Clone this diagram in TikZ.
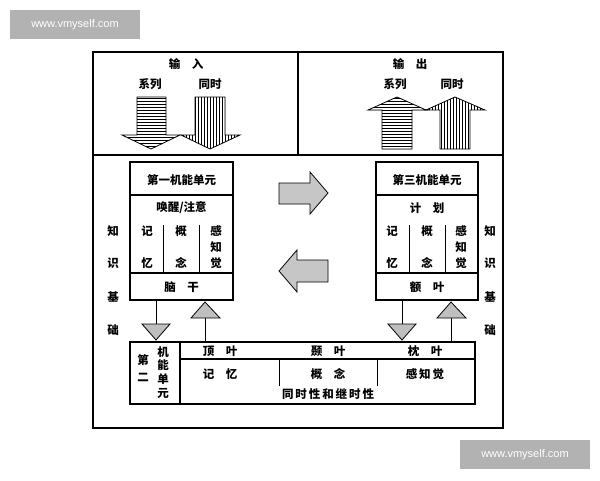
\documentclass[tikz,border=0pt]{standalone}
\usepackage{fontspec}
\setmainfont{Liberation Sans}
\newfontfamily\cjk{Noto Sans CJK SC}
\usetikzlibrary{patterns}
\begin{document}
\begin{tikzpicture}[x=1pt,y=-1pt,line width=1pt,
  t/.style={font=\cjk\bfseries\fontsize{11.5}{13}\selectfont,inner sep=0pt},
  box/.style={draw,line width=1.1pt},
  tri/.style={draw,fill=gray!50,line width=0.8pt},
  big/.style={draw,fill=gray!45,line width=0.8pt},
  hs/.style={draw,pattern=horizontal lines,line width=0.8pt},
  vs/.style={draw,pattern=vertical lines,line width=0.8pt},
  wm/.style={fill=gray!60,text=white,font=\fontsize{11}{13}\selectfont,minimum width=130pt,minimum height=29pt,inner sep=0pt}]
\useasboundingbox (0,0) rectangle (600,480);
\fill[white] (0,0) rectangle (600,480);
\node[wm] (wm1) at (75,24.5) {www.vmyself.com};
\node[wm] (wm2) at (525,454.5) {www.vmyself.com};
% outer frame
\draw[box] (93,52) rectangle (503,428);
\draw[box] (93,155) -- (503,155);
\draw[box] (298,52) -- (298,155);
% input
\node[t] (in) at (186,64) {输\quad 入};
\node[t] (s1) at (150,84) {系列};
\node[t] (c1) at (210,84) {同时};
\draw[hs] (137,97) -- (166,97) -- (166,135) -- (180,135) -- (151,149) -- (122,135) -- (137,135) -- cycle;
\draw[vs] (195,97) -- (225,97) -- (225,135) -- (240,135) -- (210,149) -- (181,135) -- (195,135) -- cycle;
% output
\node[t] (out) at (410,64) {输\quad 出};
\node[t] (s2) at (395,84) {系列};
\node[t] (c2) at (452,84) {同时};
\draw[hs] (382,149) -- (412,149) -- (412,110) -- (426,110) -- (397,97) -- (368,110) -- (382,110) -- cycle;
\draw[vs] (440,149) -- (470,149) -- (470,110) -- (485,110) -- (455,97) -- (426,110) -- (440,110) -- cycle;
% first unit
\draw[box] (130,162) rectangle (233,300);
\draw[box] (130,195) -- (233,195) (130,273) -- (233,273);
\draw (163,225) -- (163,273) (199,225) -- (199,273);
\node[t] (u1) at (181.5,180) {第一机能单元};
\node[t] (a1) at (181.5,208) {唤醒/注意};
\node[t] at (147,231) {记}; \node[t] at (147,263) {忆};
\node[t] at (181,231) {概}; \node[t] at (181,263) {念};
\node[t] at (216,231) {感}; \node[t] at (216,247) {知}; \node[t] at (216,263) {觉};
\node[t] (nao) at (181.5,287) {脑\quad 干};
% third unit
\draw[box] (376,162) rectangle (478,300);
\draw[box] (376,195) -- (478,195) (376,273) -- (478,273);
\draw (409,225) -- (409,273) (445,225) -- (445,273);
\node[t] (u3) at (427,180) {第三机能单元};
\node[t] (jh) at (427,208) {计\quad 划};
\node[t] at (392,231) {记}; \node[t] at (392,263) {忆};
\node[t] at (427,231) {概}; \node[t] at (427,263) {念};
\node[t] at (461,231) {感}; \node[t] at (461,247) {知}; \node[t] at (461,263) {觉};
\node[t] (ey) at (427,287) {额\quad 叶};
% knowledge base labels
\foreach \c/\y in {知/231,识/263,基/297,础/330}{
  \node[t] at (113,\y) {\c};
  \node[t] at (490,\y) {\c};
}
% big arrows
\draw[big] (279,183) -- (310,183) -- (310,172) -- (328,193) -- (310,214) -- (310,204) -- (279,204) -- cycle;
\draw[big] (328,260) -- (297,260) -- (297,250) -- (279,271) -- (297,292) -- (297,282) -- (328,282) -- cycle;
% second unit
\draw[box] (130,342) rectangle (475,404);
\draw[box] (180,342) -- (180,404);
\draw[box] (180,359) -- (475,359);
\draw (279,359) -- (279,386) (377,359) -- (377,386);
\node[t] at (143,360) {第}; \node[t] at (143,377) {二};
\node[t] at (163,352) {机}; \node[t] at (163,365) {能}; \node[t] at (163,379) {单}; \node[t] at (163,393) {元};
\node[t] at (220,351) {顶\quad 叶};
\node[t] at (328,351) {颞\quad 叶};
\node[t] at (425,351) {枕\quad 叶};
\node[t] at (220,374) {记\quad 忆};
\node[t] at (328,374) {概\quad 念};
\node[t] at (425,374) {感\,知\,觉};
\node[t] at (328,394) {同\,时\,性\,和\,继\,时\,性};
% connectors and triangles
\coordinate (d1) at (156,324); \coordinate (d2) at (402,324);
\coordinate (e1) at (205,318); \coordinate (e2) at (451,318);
\draw (156,300) -- (d1); \draw (402,300) -- (d2);
\draw (e1) -- (205,342); \draw (e2) -- (451,342);
\draw[tri] (142,324) -- (170,324) -- (156,340) -- cycle;
\draw[tri] (388,324) -- (416,324) -- (402,340) -- cycle;
\draw[tri] (191,318) -- (220,318) -- (205,302) -- cycle;
\draw[tri] (437,318) -- (466,318) -- (451,302) -- cycle;
\end{tikzpicture}
\end{document}
